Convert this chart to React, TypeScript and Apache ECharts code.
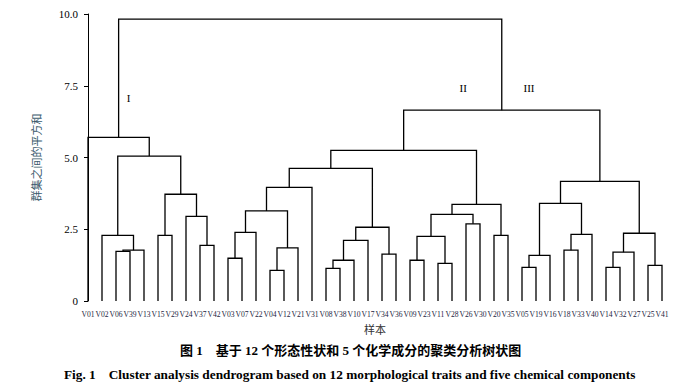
import React, { useEffect, useRef } from "react";
import * as echarts from "echarts";

const leaves = [
  "V01", "V02", "V06", "V39", "V13", "V15", "V29", "V24", "V37", "V42",
  "V03", "V07", "V22", "V04", "V12", "V21", "V31", "V08", "V38", "V10",
  "V17", "V34", "V36", "V09", "V23", "V11", "V28", "V26", "V30", "V20",
  "V35", "V05", "V19", "V16", "V18", "V33", "V40", "V14", "V32", "V27",
  "V25", "V41",
];

// merges: [childA, childB, height]; children are leaf names or "m<index>"
const merges: [string, string, number][] = [
  ["V06", "V39", 1.73], // m0
  ["m0", "V13", 1.77], // m1
  ["V02", "m1", 2.29], // m2
  ["V15", "V29", 2.29], // m3
  ["V37", "V42", 1.94], // m4
  ["V24", "m4", 2.95], // m5
  ["m3", "m5", 3.72], // m6
  ["m2", "m6", 5.05], // m7
  ["V01", "m7", 5.7], // m8
  ["V03", "V07", 1.49], // m9
  ["m9", "V22", 2.39], // m10
  ["V04", "V12", 1.07], // m11
  ["m11", "V21", 1.85], // m12
  ["m10", "m12", 3.14], // m13
  ["m13", "V31", 3.96], // m14
  ["V08", "V38", 1.14], // m15
  ["m15", "V10", 1.42], // m16
  ["m16", "V17", 2.11], // m17
  ["V34", "V36", 1.63], // m18
  ["m17", "m18", 2.57], // m19
  ["m14", "m19", 4.62], // m20
  ["V09", "V23", 1.42], // m21
  ["V11", "V28", 1.31], // m22
  ["m21", "m22", 2.25], // m23
  ["V26", "V30", 2.69], // m24
  ["m23", "m24", 3.02], // m25
  ["V20", "V35", 2.29], // m26
  ["m25", "m26", 3.37], // m27
  ["m20", "m27", 5.25], // m28
  ["V05", "V19", 1.17], // m29
  ["m29", "V16", 1.59], // m30
  ["V18", "V33", 1.77], // m31
  ["m31", "V40", 2.32], // m32
  ["m30", "m32", 3.4], // m33
  ["V14", "V32", 1.17], // m34
  ["m34", "V27", 1.7], // m35
  ["V25", "V41", 1.24], // m36
  ["m35", "m36", 2.36], // m37
  ["m33", "m37", 4.17], // m38
  ["m28", "m38", 6.65], // m39
  ["m8", "m39", 9.82], // m40
];

// cluster labels: [text, x position in leaf index units, height]
const clusterLabels: [string, number, number][] = [
  ["I", 2.9, 7.07],
  ["II", 26.8, 7.42],
  ["III", 31.5, 7.42],
];

const yTicks = [0, 2.5, 5, 7.5, 10];
const yTickLabels = ["0", "2.5", "5.0", "7.5", "10.0"];

const yAxisName = "群集之间的平方和";
const xAxisName = "样本";
const captionZh = "图 1　基于 12 个形态性状和 5 个化学成分的聚类分析树状图";
const captionEn =
  "Fig. 1　Cluster analysis dendrogram based on 12 morphological traits and five chemical components";

function buildLinks() {
  const pos: Record<string, { x: number; h: number }> = {};
  leaves.forEach((l, i) => (pos[l] = { x: i, h: 0 }));
  const links: number[][] = [];
  merges.forEach(([a, b, h], i) => {
    const pa = pos[a];
    const pb = pos[b];
    links.push([pa.x, pb.x, pa.h, pb.h, h]);
    pos["m" + i] = { x: (pa.x + pb.x) / 2, h };
  });
  return links;
}

export default function App() {
  const ref = useRef<HTMLDivElement>(null);
  useEffect(() => {
    if (!ref.current) return;
    const chart = echarts.init(ref.current, null, { renderer: "svg" });
    const links = buildLinks();
    const serif = "'Liberation Serif', 'Times New Roman', serif";
    chart.setOption({
      animation: false,
      backgroundColor: "#fff",
      grid: { left: 81, right: 17, top: 14, bottom: 90 },
      xAxis: [
        {
          type: "category",
          data: leaves,
          boundaryGap: true,
          axisLine: { show: false },
          axisTick: { show: false },
          axisLabel: {
            interval: 0,
            fontSize: 7.6,
            fontFamily: serif,
            color: "#1c2440",
            margin: 9,
          },
          name: xAxisName,
          nameLocation: "middle",
          nameGap: 22,
          nameTextStyle: {
            fontSize: 11,
            color: "#333",
            fontFamily: "'Noto Sans CJK SC', sans-serif",
          },
        },
        {
          type: "value",
          min: -0.5,
          max: leaves.length - 0.5,
          show: false,
        },
      ],
      yAxis: {
        type: "value",
        min: 0,
        max: 10,
        interval: 2.5,
        splitLine: { show: false },
        axisLine: { show: true, lineStyle: { color: "#000", width: 1 } },
        axisTick: { show: true, length: 4, lineStyle: { color: "#000" } },
        axisLabel: {
          fontSize: 11,
          fontFamily: serif,
          color: "#000",
          margin: 3,
          formatter: (v: number) => {
            const i = yTicks.indexOf(v);
            return i >= 0 ? yTickLabels[i] : "";
          },
        },
        name: yAxisName,
        nameLocation: "middle",
        nameGap: 40,
        nameRotate: 90,
        nameTextStyle: {
          fontSize: 11,
          color: "#3a5a6c",
          fontFamily: "'Noto Sans CJK SC', sans-serif",
        },
      },
      series: [
        {
          type: "custom",
          xAxisIndex: 1,
          data: links,
          silent: true,
          renderItem: (params: any, api: any) => {
            const x1 = api.value(0);
            const x2 = api.value(1);
            const h1 = api.value(2);
            const h2 = api.value(3);
            const h = api.value(4);
            const pts = [
              api.coord([x1, h1]),
              api.coord([x1, h]),
              api.coord([x2, h]),
              api.coord([x2, h2]),
            ];
            return {
              type: "polyline",
              shape: { points: pts },
              style: { stroke: "#000", lineWidth: 1.3, fill: null },
            };
          },
        },
        {
          type: "custom",
          xAxisIndex: 1,
          data: clusterLabels.map((c) => [c[1], c[2]]),
          silent: true,
          renderItem: (params: any, api: any) => {
            const p = api.coord([api.value(0), api.value(1)]);
            return {
              type: "text",
              x: p[0],
              y: p[1],
              style: {
                text: clusterLabels[params.dataIndex][0],
                fontSize: 11,
                fontFamily: serif,
                fill: "#000",
                align: "center",
                verticalAlign: "middle",
              },
            };
          },
        },
      ],
      graphic: [
        {
          type: "text",
          left: 180,
          top: 344,
          style: {
            text: captionZh,
            fontSize: 13,
            fontWeight: "bold",
            fontFamily: "'Liberation Serif', 'Noto Sans CJK SC', serif",
            fill: "#000",
          },
        },
        {
          type: "text",
          left: 64,
          top: 368,
          style: {
            text: captionEn,
            fontSize: 13.3,
            fontWeight: "bold",
            fontFamily: serif,
            fill: "#000",
          },
        },
      ],
    });
    return () => chart.dispose();
  }, []);
  return (
    <div
      ref={ref}
      style={{ width: 686, height: 391, position: "absolute", left: 0, top: 0 }}
    />
  );
}
